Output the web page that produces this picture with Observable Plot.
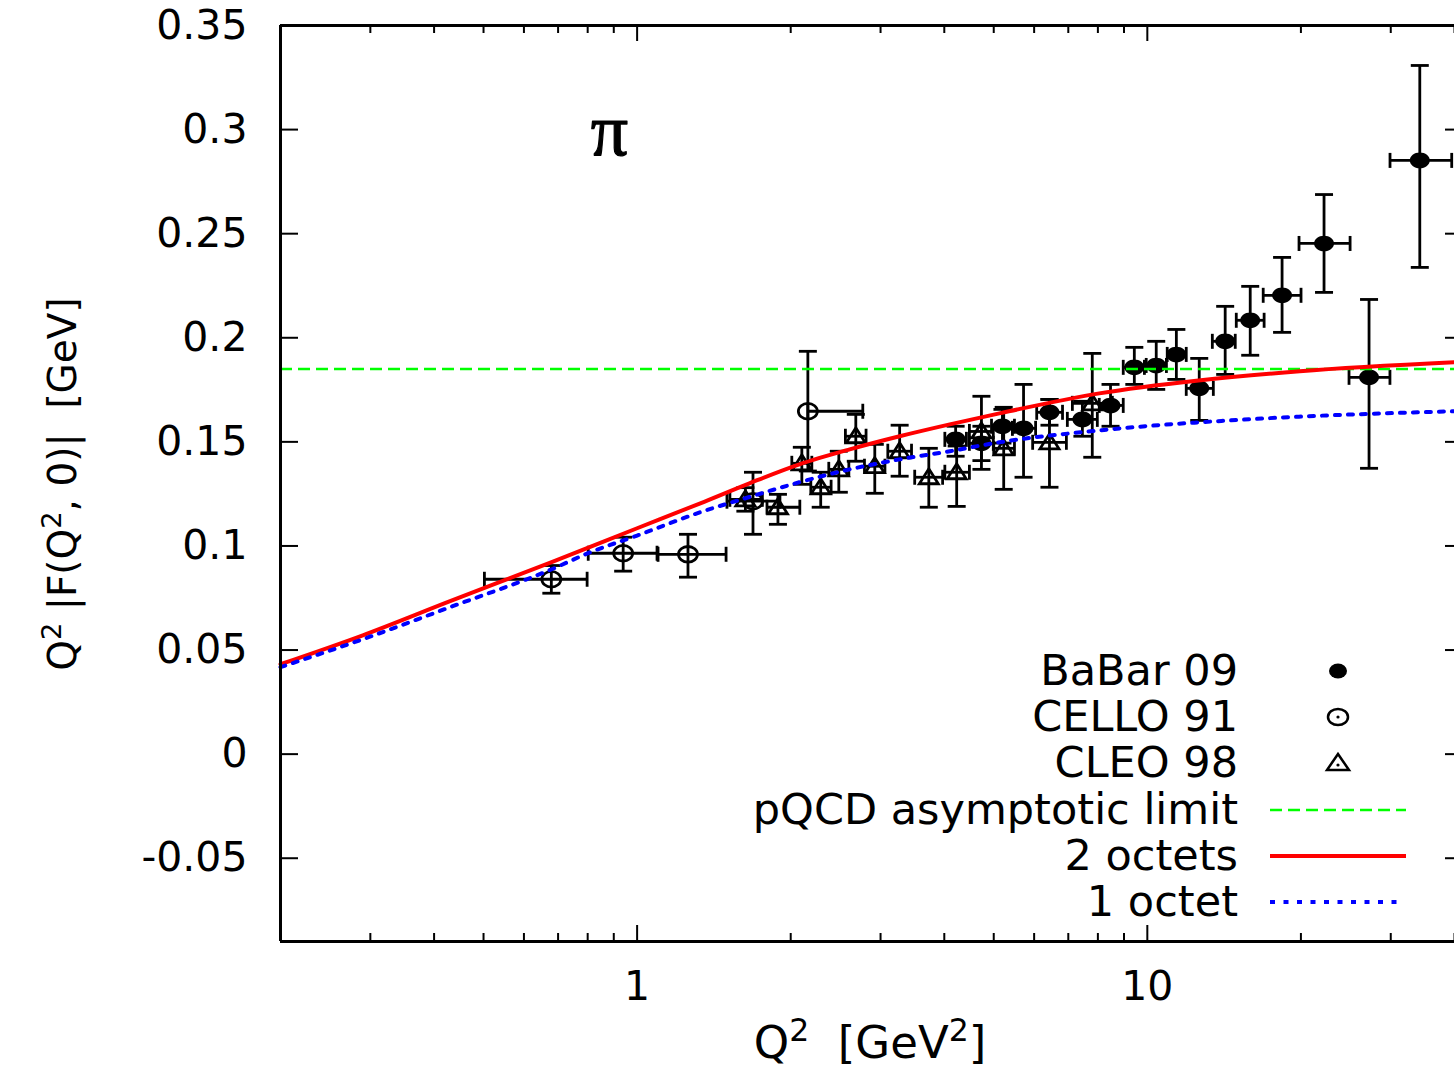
<!DOCTYPE html>
<html>
<head>
<meta charset="utf-8">
<script src="https://cdn.jsdelivr.net/npm/d3@7"></script>
<script src="https://cdn.jsdelivr.net/npm/@observablehq/plot@0.6"></script>
<style>
  body { margin: 0; background: #fff; }
  #wrap { position: relative; width: 1454px; height: 1077px; overflow: hidden; font-family: "DejaVu Sans", sans-serif; color: #000; background: #fff; }
  #wrap svg { position: absolute; left: 0; top: 0; }
  .lab { position: absolute; white-space: nowrap; line-height: 1; }
  .lab sup { font-size: 0.7em; position: relative; top: -0.55em; vertical-align: baseline; line-height: 0; }
  .legrow { position: absolute; left: 0; width: 1238px; text-align: right; font-size: 43px; line-height: 46px; height: 46px; white-space: nowrap; }
  .legsym { position: absolute; left: 1260px; width: 160px; height: 46px; }
</style>
</head>
<body>
<div id="wrap"></div>
<script>
// ---------------- data ----------------
// BaBar 09
const babarQ2   = [4.21, 4.73, 5.20, 5.72, 6.43, 7.46, 8.47, 9.43, 10.41, 11.40, 12.64, 14.21, 15.91, 18.37, 22.2, 27.2, 34.2];
const babarF    = [0.1512, 0.1493, 0.1575, 0.1565, 0.1642, 0.1608, 0.1675, 0.1858, 0.1867, 0.1920, 0.1757, 0.1983, 0.2084, 0.2204, 0.2453, 0.1810, 0.2852];
const babarFlo  = [0.1431, 0.1410, 0.1494, 0.1330, 0.1580, 0.1527, 0.1575, 0.1776, 0.1752, 0.1800, 0.1603, 0.1824, 0.1916, 0.2026, 0.2218, 0.1373, 0.2338];
const babarFhi  = [0.1575, 0.1575, 0.1656, 0.1776, 0.1704, 0.1695, 0.1776, 0.1954, 0.1983, 0.2040, 0.1901, 0.2151, 0.2247, 0.2386, 0.2688, 0.2184, 0.3308];
const babarQ2lo = [4.01, 4.48, 4.95, 5.44, 6.07, 6.97, 8.05, 8.97, 9.95, 10.94, 11.92, 13.41, 14.94, 16.87, 19.83, 24.85, 29.9];
const babarQ2hi = [4.42, 4.99, 5.49, 6.04, 6.82, 7.98, 8.97, 9.87, 10.9, 11.92, 13.47, 14.87, 16.94, 20.01, 24.97, 29.89, 39.5];

// CELLO 91
const celloQ2   = [0.679, 0.939, 1.258, 1.687, 2.161];
const celloF    = [0.0840, 0.0965, 0.0960, 0.1215, 0.1647];
const celloFlo  = [0.0773, 0.0879, 0.0850, 0.1056, 0.1360];
const celloFhi  = [0.0906, 0.1042, 0.1056, 0.1354, 0.1935];
const celloQ2lo = [0.502, 0.802, 1.099, 1.500, 2.161];
const celloQ2hi = [0.798, 1.094, 1.494, 1.905, 2.769];

// CLEO 98
const cleoQ2   = [1.63, 1.888, 2.103, 2.29, 2.485, 2.683, 2.923, 3.27, 3.73, 4.23, 4.73, 5.23, 6.43, 7.80];
const cleoF    = [0.1224, 0.1186, 0.1397, 0.1282, 0.1368, 0.1527, 0.1383, 0.1455, 0.1330, 0.1354, 0.1550, 0.1469, 0.1498, 0.1685];
const cleoFlo  = [0.1167, 0.1104, 0.1296, 0.1186, 0.1258, 0.1407, 0.1253, 0.1335, 0.1186, 0.1190, 0.1368, 0.1272, 0.1282, 0.1426];
const cleoFhi  = [0.1280, 0.1248, 0.1474, 0.1354, 0.1455, 0.1632, 0.1488, 0.1580, 0.1469, 0.1480, 0.1719, 0.1666, 0.1704, 0.1925];
const cleoQ2lo = [1.52, 1.797, 2.01, 2.19, 2.375, 2.56, 2.79, 3.10, 3.50, 4.01, 4.48, 5.00, 5.96, 7.13];
const cleoQ2hi = [1.76, 2.084, 2.20, 2.40, 2.60, 2.81, 3.06, 3.45, 3.97, 4.48, 4.99, 5.49, 6.94, 8.54];

// pQCD asymptotic limit
const pqcdLimit = [0.185];

// model curves
const oct2Q2 = [0.2, 0.29, 0.43, 0.68, 1.0, 1.33, 1.66, 2.08, 2.61, 3.27, 4.10, 5.13, 8.05, 12.6, 19.9, 40];
const oct2F  = [0.0432, 0.0571, 0.0735, 0.0922, 0.1085, 0.1205, 0.1301, 0.1392, 0.1464, 0.1527, 0.1584, 0.1637, 0.1733, 0.1795, 0.1839, 0.1882];
const oct1Q2 = [0.2, 0.29, 0.43, 0.68, 0.81, 1.0, 1.33, 1.66, 2.08, 2.61, 3.27, 4.10, 5.13, 8.05, 17.1, 40];
const oct1F  = [0.0418, 0.0552, 0.0706, 0.0888, 0.0970, 0.1050, 0.1162, 0.1235, 0.1306, 0.1368, 0.1416, 0.1455, 0.1498, 0.1555, 0.1613, 0.1647];

// ticks
const yTicks = [-0.05, 0, 0.05, 0.1, 0.15, 0.2, 0.25, 0.3, 0.35];
const yTickLabels = ["-0.05", "0", "0.05", "0.1", "0.15", "0.2", "0.25", "0.3", "0.35"];
const xMajorTicks = [1, 10];
const xTickLabels = ["1", "10"];
const xMinorTicks = [0.3, 0.4, 0.5, 0.6, 0.7, 0.8, 0.9, 2, 3, 4, 5, 6, 7, 8, 9, 20, 30, 40];

const legendLabels = ["BaBar 09", "CELLO 91", "CLEO 98", "pQCD asymptotic limit", "2 octets", "1 octet"];
const legendKinds  = ["ball", "circle", "triangle", "green", "red", "blue"];
const piLabel = ["π"];

// ---------------- tables ----------------
const toRows = (X, Y, Ylo, Yhi, Xlo, Xhi) => X.map((x, i) => ({x, y: Y[i], ylo: Ylo[i], yhi: Yhi[i], xlo: Xlo[i], xhi: Xhi[i]}));
const babar = toRows(babarQ2, babarF, babarFlo, babarFhi, babarQ2lo, babarQ2hi);
const cello = toRows(celloQ2, celloF, celloFlo, celloFhi, celloQ2lo, celloQ2hi);
const cleo  = toRows(cleoQ2, cleoF, cleoFlo, cleoFhi, cleoQ2lo, cleoQ2hi);
const oct2 = oct2Q2.map((x, i) => ({x, y: oct2F[i]}));
const oct1 = oct1Q2.map((x, i) => ({x, y: oct1F[i]}));

// ---------------- custom symbols ----------------
const K = 0.5523;
const ellipse = (rx, ry) => ({
  draw(c) {
    c.moveTo(rx, 0);
    c.bezierCurveTo(rx, ry * K, rx * K, ry, 0, ry);
    c.bezierCurveTo(-rx * K, ry, -rx, ry * K, -rx, 0);
    c.bezierCurveTo(-rx, -ry * K, -rx * K, -ry, 0, -ry);
    c.bezierCurveTo(rx * K, -ry, rx, -ry * K, rx, 0);
    c.closePath();
  }
});
const ballSym = ellipse(10, 7.8);
const ringSym = ellipse(9.5, 7.8);
const triSym = {draw(c) { c.moveTo(0, -8.5); c.lineTo(9.5, 6.5); c.lineTo(-9.5, 6.5); c.closePath(); }};
const hcap = {draw(c) { c.moveTo(-9, 0); c.lineTo(9, 0); }};
const vcap = {draw(c) { c.moveTo(0, -7.5); c.lineTo(0, 7.5); }};

function errorMarks(data) {
  const s = {stroke: "black", strokeWidth: 2.8};
  return [
    Plot.ruleX(data, {x: "x", y1: "ylo", y2: "yhi", ...s}),
    Plot.ruleY(data, {y: "y", x1: "xlo", x2: "xhi", ...s}),
    Plot.dot(data, {x: "x", y: "ylo", symbol: hcap, fill: "none", ...s}),
    Plot.dot(data, {x: "x", y: "yhi", symbol: hcap, fill: "none", ...s}),
    Plot.dot(data, {x: "xlo", y: "y", symbol: vcap, fill: "none", ...s}),
    Plot.dot(data, {x: "xhi", y: "y", symbol: vcap, fill: "none", ...s})
  ];
}

// ---------------- layout ----------------
const W = 1454, H = 1077;
const mL = 280, mT = 25, mR = 0, mB = 136;
const fw = W - mL - mR, fh = H - mT - mB;

const yLab = new Map(yTicks.map((v, i) => [v, yTickLabels[i]]));
const xLab = new Map(xMajorTicks.map((v, i) => [v, xTickLabels[i]]));

const chart = Plot.plot({
  width: W, height: H,
  marginLeft: mL, marginTop: mT, marginRight: mR, marginBottom: mB,
  style: {fontFamily: "DejaVu Sans", background: "white", color: "black", overflow: "visible"},
  x: {type: "log", domain: [0.2, 40]},
  y: {domain: [-0.09, 0.35]},
  marks: [
    // data
    ...errorMarks(babar),
    ...errorMarks(cello),
    ...errorMarks(cleo),
    Plot.dot(babar, {x: "x", y: "y", symbol: ballSym, fill: "black", stroke: "none"}),
    Plot.dot(cello, {x: "x", y: "y", symbol: ringSym, fill: "none", stroke: "black", strokeWidth: 2.8}),
    Plot.dot(cleo, {x: "x", y: "y", symbol: triSym, fill: "none", stroke: "black", strokeWidth: 2.8}),
    // curves
    Plot.ruleY(pqcdLimit, {stroke: "#00ff00", strokeWidth: 2.5, strokeDasharray: "12,6"}),
    Plot.line(oct2, {x: "x", y: "y", stroke: "#ff0000", strokeWidth: 4, curve: "monotone-x"}),
    Plot.line(oct1, {x: "x", y: "y", stroke: "#0000ff", strokeWidth: 4, strokeDasharray: "5,8", curve: "monotone-x"}),
    // frame (left, top, bottom)
    Plot.ruleX([0.2], {stroke: "black", strokeWidth: 3}),
    Plot.ruleY([0.35], {stroke: "black", strokeWidth: 3}),
    Plot.ruleY([-0.09], {stroke: "black", strokeWidth: 3}),
    // inward ticks
    Plot.tickY(yTicks, {y: d => d, insetRight: fw - 18, stroke: "black", strokeWidth: 2}),
    Plot.tickY(yTicks, {y: d => d, insetLeft: fw - 9, stroke: "black", strokeWidth: 2}),
    Plot.tickX(xMinorTicks, {x: d => d, insetTop: fh - 8, stroke: "black", strokeWidth: 2}),
    Plot.tickX(xMajorTicks, {x: d => d, insetTop: fh - 16, stroke: "black", strokeWidth: 2}),
    Plot.tickX(xMinorTicks, {x: d => d, insetBottom: fh - 8, stroke: "black", strokeWidth: 2}),
    Plot.tickX(xMajorTicks, {x: d => d, insetBottom: fh - 16, stroke: "black", strokeWidth: 2}),
    // tick labels
    Plot.axisY({anchor: "left", ticks: yTicks, tickSize: 0, tickPadding: 33, tickFormat: d => yLab.get(d), fontSize: 41, label: null}),
    Plot.axisX({anchor: "bottom", ticks: xMajorTicks, tickSize: 0, tickPadding: 29, tickFormat: d => xLab.get(d), fontSize: 41, label: null}),
    // pi label
    Plot.text(piLabel, {frameAnchor: "top-left", dx: 329, dy: 106, text: d => d, fontSize: 74, fontFamily: "Liberation Serif", textAnchor: "middle", lineAnchor: "middle", fill: "black", stroke: "black", strokeWidth: 1.2})
  ]
});

const wrap = document.getElementById("wrap");
wrap.appendChild(chart);

// axis titles
const xt = document.createElement("div");
xt.className = "lab";
xt.style.cssText = "left:870px; top:1020px; font-size:45px; transform:translateX(-50%);";
xt.innerHTML = "Q<sup>2</sup>&nbsp;&nbsp;[GeV<sup>2</sup>]";
wrap.appendChild(xt);

const yt = document.createElement("div");
yt.className = "lab";
yt.style.cssText = "left:62px; top:484px; font-size:39px; transform:translate(-50%,-50%) rotate(-90deg);";
yt.innerHTML = "Q<sup>2</sup> |F(Q<sup>2</sup>, 0)|&nbsp;&nbsp;[GeV]";
wrap.appendChild(yt);

// legend
const samples = {
  ball: '<ellipse cx="78" cy="23" rx="9" ry="7.5" fill="black"/>',
  circle: '<ellipse cx="78" cy="23" rx="10" ry="8" fill="none" stroke="black" stroke-width="2.5"/><circle cx="78" cy="23" r="1.6" fill="black"/>',
  triangle: '<polygon points="78,14 89,30 67,30" fill="none" stroke="black" stroke-width="2.5" stroke-linejoin="miter"/><circle cx="78" cy="25" r="1.6" fill="black"/>',
  green: '<line x1="10" x2="146" y1="23" y2="23" stroke="#00ff00" stroke-width="2.5" stroke-dasharray="12,6"/>',
  red: '<line x1="10" x2="146" y1="23" y2="23" stroke="#ff0000" stroke-width="4"/>',
  blue: '<line x1="10" x2="140" y1="23" y2="23" stroke="#0000ff" stroke-width="4" stroke-dasharray="5,8.5"/>'
};
legendLabels.forEach((lab, i) => {
  const top = 647 + i * 46.2;
  const r = document.createElement("div");
  r.className = "legrow";
  r.style.top = top + "px";
  r.textContent = lab;
  wrap.appendChild(r);
  const s = document.createElement("div");
  s.className = "legsym";
  s.style.top = (top + 1) + "px";
  s.innerHTML = '<svg width="160" height="46" style="position:absolute;left:0;top:0">' + samples[legendKinds[i]] + '</svg>';
  wrap.appendChild(s);
});
</script>
</body>
</html>
